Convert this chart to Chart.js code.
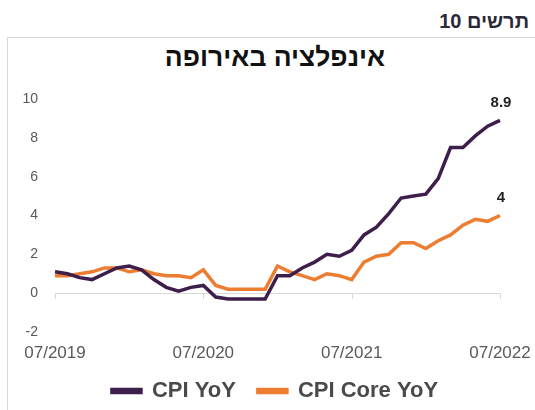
<!DOCTYPE html>
<html>
<head>
<meta charset="utf-8">
<script src="https://cdn.jsdelivr.net/npm/chart.js@4"></script>
<style>
  body { margin: 0; background: #fff; font-family: "Liberation Sans", Arial, sans-serif; }
  #page { position: relative; width: 535px; height: 410px; overflow: hidden; }
  #fig { position: absolute; right: 6px; top: 10px; font-size: 20px; font-weight: bold; color: #2b2838; direction: rtl; }
  #box { position: absolute; left: 7px; top: 37px; width: 540px; height: 400px; border: 1px solid #d9d9d9; }
  #title { position: absolute; left: 7px; width: 536px; top: 42px; text-align: center; direction: rtl;
           font-size: 26.5px; font-weight: bold; color: #111; }
  #wrap { position: absolute; left: 7px; top: 37px; width: 528px; height: 373px; }
</style>
</head>
<body>
<div id="page">
  <div id="fig">תרשים 10</div>
  <div id="box"></div>
  <div id="title">אינפלציה באירופה</div>
  <div id="wrap"><canvas id="c"></canvas></div>
</div>
<script>
// months 07/2019 .. 07/2022
const months = [
  "07/2019","08/2019","09/2019","10/2019","11/2019","12/2019",
  "01/2020","02/2020","03/2020","04/2020","05/2020","06/2020",
  "07/2020","08/2020","09/2020","10/2020","11/2020","12/2020",
  "01/2021","02/2021","03/2021","04/2021","05/2021","06/2021",
  "07/2021","08/2021","09/2021","10/2021","11/2021","12/2021",
  "01/2022","02/2022","03/2022","04/2022","05/2022","06/2022",
  "07/2022"
];
const cpiYoY = [
  1.1, 1.0, 0.8, 0.7, 1.0, 1.3,
  1.4, 1.2, 0.7, 0.3, 0.1, 0.3,
  0.4, -0.2, -0.3, -0.3, -0.3, -0.3,
  0.9, 0.9, 1.3, 1.6, 2.0, 1.9,
  2.2, 3.0, 3.4, 4.1, 4.9, 5.0,
  5.1, 5.9, 7.5, 7.5, 8.1, 8.6,
  8.9
];
const cpiCoreYoY = [
  0.9, 0.9, 1.0, 1.1, 1.3, 1.3,
  1.1, 1.2, 1.0, 0.9, 0.9, 0.8,
  1.2, 0.4, 0.2, 0.2, 0.2, 0.2,
  1.4, 1.1, 0.9, 0.7, 1.0, 0.9,
  0.7, 1.6, 1.9, 2.0, 2.6, 2.6,
  2.3, 2.7, 3.0, 3.5, 3.8, 3.7,
  4.0
];
const shownTicks = ["07/2019", "07/2020", "07/2021", "07/2022"];
const yTicks = [-2, 0, 2, 4, 6, 8, 10];

const purple = "#3e1f4c";
const orange = "#ed7d31";
const font = '"Liberation Sans", Arial, sans-serif';

// zero line with small tick marks under the yearly labels
const zeroAxis = {
  id: 'zeroAxis',
  beforeDatasetsDraw(chart) {
    const ctx = chart.ctx;
    const x = chart.scales.x, y = chart.scales.y;
    const y0 = Math.round(y.getPixelForValue(0));
    ctx.save();
    ctx.strokeStyle = "#d9d9d9";
    ctx.lineWidth = 1;
    ctx.beginPath();
    ctx.moveTo(chart.chartArea.left, y0 + 0.5);
    ctx.lineTo(chart.chartArea.right, y0 + 0.5);
    shownTicks.forEach(m => {
      const px = Math.round(x.getPixelForValue(months.indexOf(m))) + 0.5;
      ctx.moveTo(px, y0);
      ctx.lineTo(px, y0 + 6);
    });
    ctx.stroke();
    ctx.restore();
  }
};

// value labels at the last point
const lastLabels = {
  id: 'lastLabels',
  afterDatasetsDraw(chart) {
    const ctx = chart.ctx;
    ctx.save();
    ctx.font = "bold 15px " + font;
    ctx.fillStyle = "#1f1f1f";
    ctx.textAlign = "center";
    ctx.textBaseline = "bottom";
    chart.data.datasets.forEach((ds, i) => {
      const pt = chart.getDatasetMeta(i).data[ds.data.length - 1];
      ctx.fillText(String(ds.data[ds.data.length - 1]), pt.x + 1, pt.y - 10);
    });
    ctx.restore();
  }
};

// legend sits a bit right of the plot centre and a little higher
const legendNudge = {
  id: 'legendNudge',
  afterLayout(chart) {
    const lg = chart.legend;
    lg.left += 4; lg.right += 4;
    lg.top -= 4; lg.bottom -= 4;
  }
};

new Chart(document.getElementById('c'), {
  type: 'line',
  data: {
    labels: months,
    datasets: [
      { label: 'CPI YoY', data: cpiYoY, borderColor: purple, backgroundColor: purple,
        borderWidth: 3.5, pointRadius: 0, tension: 0 },
      { label: 'CPI Core YoY', data: cpiCoreYoY, borderColor: orange, backgroundColor: orange,
        borderWidth: 3.5, pointRadius: 0, tension: 0 }
    ]
  },
  options: {
    responsive: true,
    maintainAspectRatio: false,
    animation: false,
    layout: { padding: { left: 0, right: 0, top: 62, bottom: 0 } },
    plugins: {
      title: { display: false },
      legend: {
        position: 'bottom',
        maxHeight: 48,
        labels: {
          boxWidth: 29, boxHeight: 3, padding: 22,
          color: '#4a4a4a',
          font: { family: font, size: 22, weight: 'bold' }
        }
      },
      tooltip: { enabled: false }
    },
    scales: {
      x: {
        afterFit: s => { s.paddingLeft = 0; s.paddingRight = 35; s.height = 30; },
        grid: { display: false, drawTicks: false },
        border: { display: false },
        ticks: {
          autoSkip: false, maxRotation: 0, color: '#595959', padding: 11,
          font: { family: font, size: 17 },
          callback: function(v) {
            const m = months[v];
            return shownTicks.includes(m) ? m : null;
          }
        }
      },
      y: {
        min: -2, max: 10,
        afterBuildTicks: s => { s.ticks = yTicks.map(v => ({ value: v })); },
        afterFit: s => { s.width = 48; },
        grid: { display: false, drawTicks: false },
        border: { display: false },
        ticks: { color: '#595959', padding: 17, font: { family: font, size: 14 } }
      }
    }
  },
  plugins: [zeroAxis, lastLabels, legendNudge]
});
</script>
</body>
</html>
